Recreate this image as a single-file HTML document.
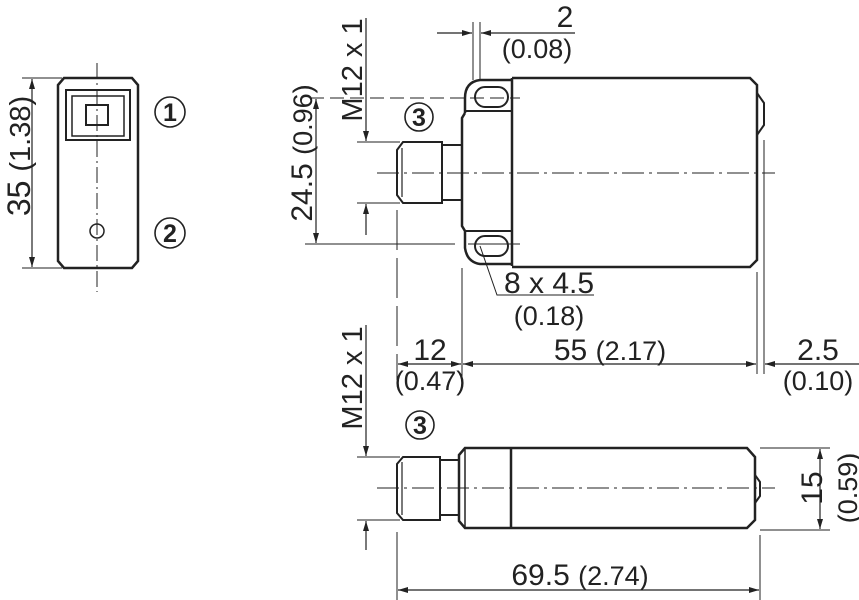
<!DOCTYPE html>
<html><head><style>html,body{margin:0;padding:0;background:#fff}svg{display:block}text{font-family:"Liberation Sans",sans-serif;fill:#222}</style></head><body>
<svg width="859" height="600" viewBox="0 0 859 600" xmlns="http://www.w3.org/2000/svg">
<defs>
<marker id="a" viewBox="0 0 10 6" refX="10" refY="3" markerWidth="11" markerHeight="6" orient="auto-start-reverse" markerUnits="userSpaceOnUse"><path d="M0,0 L10,3 L0,6 z" fill="#222"/></marker>
</defs>
<g stroke="#222" fill="none">
<path d="M64,78 H132 L138,85 V261 L132,268 H64 L58,261 V85 Z" stroke-width="2.5"/>
<rect x="66" y="90" width="64" height="50" stroke-width="2"/>
<rect x="72" y="96" width="52" height="40" stroke-width="1.5"/>
<rect x="86" y="105" width="22" height="20" stroke-width="2"/>
<circle cx="97" cy="231" r="7" stroke-width="1.5"/>
<line x1="97" y1="63" x2="97" y2="292" stroke-width="1" stroke-dasharray="16,4,2,4"/>
<line x1="32" y1="79" x2="32" y2="267" stroke-width="1.2" marker-start="url(#a)" marker-end="url(#a)"/>
<line x1="22" y1="78" x2="62" y2="78" stroke-width="1"/>
<line x1="22" y1="268" x2="62" y2="268" stroke-width="1"/>
<circle cx="170" cy="112" r="15" stroke-width="1.6"/>
<circle cx="170" cy="233" r="15" stroke-width="1.6"/>

<path d="M512,78 H750 L757,85 V260 L750,267 H512" stroke-width="2.5"/>
<path d="M757,93 L764,103 V125 L757,135" stroke-width="2"/>
<path d="M512,80 H480 Q465,82 465,98 V113" stroke-width="2.5"/>
<path d="M465,113 L462,118 V226 L465,231 V248 Q467,262 480,264 H512" stroke-width="2.5"/>
<line x1="466" y1="111" x2="512" y2="111" stroke-width="2"/>
<line x1="466" y1="231" x2="512" y2="231" stroke-width="2"/>
<line x1="512" y1="78" x2="512" y2="266" stroke-width="2.5"/>
<rect x="475" y="87" width="33" height="20" rx="10" stroke-width="2"/>
<rect x="475" y="236" width="33" height="20" rx="10" stroke-width="2"/>
<path d="M462,145 H442 V200 H462" stroke-width="2"/>
<path d="M442,142 H403 L397,150 V195 L403,203 H442 Z" stroke-width="2"/>
<line x1="402" y1="148" x2="402" y2="197" stroke-width="1.2"/>
<line x1="377" y1="173" x2="775" y2="173" stroke-width="1" stroke-dasharray="22,5,3,5"/>
<line x1="310" y1="98" x2="520" y2="98" stroke-width="1" stroke-dasharray="14,6"/>
<line x1="305" y1="244" x2="455" y2="244" stroke-width="1"/>
<line x1="468" y1="244" x2="520" y2="244" stroke-width="1"/>
<line x1="316" y1="99" x2="316" y2="243" stroke-width="1.2" marker-start="url(#a)" marker-end="url(#a)"/>
<line x1="366" y1="18" x2="366" y2="141" stroke-width="1.2" marker-end="url(#a)"/>
<line x1="366" y1="235" x2="366" y2="204" stroke-width="1.2" marker-end="url(#a)"/>
<line x1="357" y1="142" x2="400" y2="142" stroke-width="1"/>
<line x1="357" y1="203" x2="400" y2="203" stroke-width="1"/>
<circle cx="419" cy="117" r="14" stroke-width="1.6"/>
<line x1="473" y1="22" x2="473" y2="80" stroke-width="1"/>
<line x1="480" y1="22" x2="480" y2="80" stroke-width="1"/>
<line x1="437" y1="33" x2="472" y2="33" stroke-width="1.2" marker-end="url(#a)"/>
<line x1="575" y1="33" x2="481" y2="33" stroke-width="1.2" marker-end="url(#a)"/>
<polyline points="480,246 497,295 594,295" stroke-width="1"/>
<line x1="397" y1="210" x2="397" y2="380" stroke-width="1" stroke-dasharray="40,8"/>
<line x1="462" y1="268" x2="462" y2="380" stroke-width="1"/>
<line x1="757" y1="272" x2="757" y2="374" stroke-width="1"/>
<line x1="764" y1="140" x2="764" y2="374" stroke-width="1"/>
<line x1="398" y1="364" x2="461" y2="364" stroke-width="1.2" marker-start="url(#a)" marker-end="url(#a)"/>
<line x1="463" y1="364" x2="756" y2="364" stroke-width="1.2" marker-start="url(#a)" marker-end="url(#a)"/>
<line x1="859" y1="364" x2="765" y2="364" stroke-width="1.2" marker-end="url(#a)"/>

<path d="M465,448 H747 L755,457 V520 L747,528 H465 L459,521 V455 Z" stroke-width="2.5"/>
<line x1="465" y1="448" x2="465" y2="528" stroke-width="1.5"/>
<line x1="511" y1="448" x2="511" y2="528" stroke-width="2.5"/>
<path d="M755,475 L760,482 V496 L755,503" stroke-width="2"/>
<path d="M459,460 H440 V515 H459" stroke-width="2"/>
<path d="M440,457 H403 L397,464 V513 L403,520 H440 Z" stroke-width="2"/>
<line x1="402" y1="462" x2="402" y2="515" stroke-width="1.2"/>
<line x1="377" y1="488" x2="775" y2="488" stroke-width="1" stroke-dasharray="22,5,3,5"/>
<line x1="366" y1="325" x2="366" y2="456" stroke-width="1.2" marker-end="url(#a)"/>
<line x1="366" y1="550" x2="366" y2="521" stroke-width="1.2" marker-end="url(#a)"/>
<line x1="357" y1="457" x2="400" y2="457" stroke-width="1"/>
<line x1="357" y1="520" x2="400" y2="520" stroke-width="1"/>
<circle cx="420" cy="425" r="14" stroke-width="1.6"/>
<line x1="760" y1="448" x2="830" y2="448" stroke-width="1"/>
<line x1="760" y1="530" x2="830" y2="530" stroke-width="1"/>
<line x1="820" y1="449" x2="820" y2="529" stroke-width="1.2" marker-start="url(#a)" marker-end="url(#a)"/>
<line x1="397" y1="532" x2="397" y2="600" stroke-width="1"/>
<line x1="760" y1="535" x2="760" y2="600" stroke-width="1"/>
<line x1="398" y1="590" x2="759" y2="590" stroke-width="1.2" marker-start="url(#a)" marker-end="url(#a)"/>
</g>
<g font-size="30">
<text transform="translate(30,156) rotate(-90)" text-anchor="middle" font-size="32">35 <tspan font-size="29">(1.38)</tspan></text>
<text x="170" y="121" text-anchor="middle" font-size="25" font-weight="bold">1</text>
<text x="170" y="242" text-anchor="middle" font-size="25" font-weight="bold">2</text>
<text transform="translate(312,153) rotate(-90)" text-anchor="middle">24.5 <tspan font-size="27">(0.96)</tspan></text>
<text transform="translate(362,70) rotate(-90)" text-anchor="middle" font-size="29">M12 x 1</text>
<text x="419" y="126" text-anchor="middle" font-size="25" font-weight="bold">3</text>
<text x="565" y="27" text-anchor="middle">2</text>
<text x="537" y="58" text-anchor="middle" font-size="27">(0.08)</text>
<text x="549" y="293" text-anchor="middle">8 x 4.5</text>
<text x="549" y="325" text-anchor="middle" font-size="27">(0.18)</text>
<text x="430" y="360" text-anchor="middle">12</text>
<text x="430" y="390" text-anchor="middle" font-size="27">(0.47)</text>
<text x="610" y="360" text-anchor="middle">55 <tspan font-size="27">(2.17)</tspan></text>
<text x="818" y="360" text-anchor="middle">2.5</text>
<text x="818" y="390" text-anchor="middle" font-size="27">(0.10)</text>
<text transform="translate(362,378) rotate(-90)" text-anchor="middle" font-size="29">M12 x 1</text>
<text x="420" y="434" text-anchor="middle" font-size="25" font-weight="bold">3</text>
<text transform="translate(822,488) rotate(-90)" text-anchor="middle">15</text>
<text transform="translate(857,488) rotate(-90)" text-anchor="middle" font-size="27">(0.59)</text>
<text x="580" y="585" text-anchor="middle">69.5 <tspan font-size="27">(2.74)</tspan></text>
</g>
</svg>
</body></html>
